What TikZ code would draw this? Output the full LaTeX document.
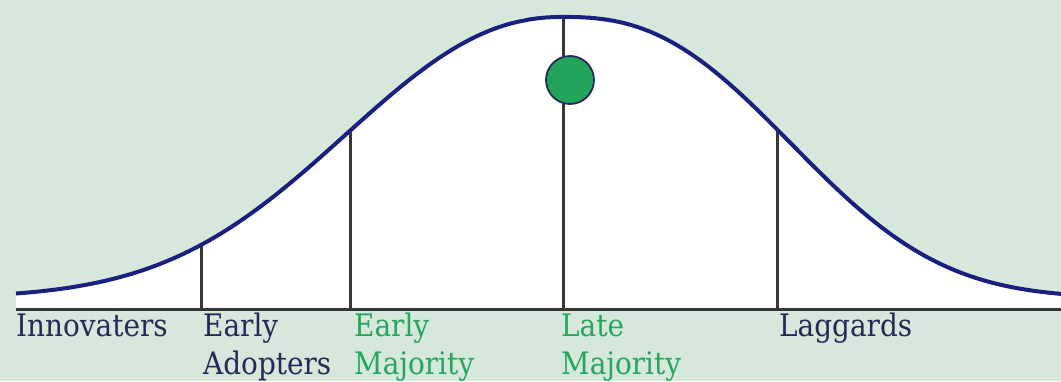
\documentclass[tikz,border=0pt]{standalone}
\usepackage{fontspec}
\setmainfont{DejaVu Serif Condensed}
\definecolor{bg}{RGB}{214,232,220}
\definecolor{navy}{RGB}{26,32,128}
\definecolor{txtnavy}{RGB}{36,42,88}
\definecolor{txtgreen}{RGB}{37,166,95}
\definecolor{dotgreen}{RGB}{34,165,90}
\definecolor{axisgray}{RGB}{55,55,55}
\pgfmathdeclarefunction{bellL}{1}{\pgfmathparse{298-281*exp(-((abs(#1-563)+0.01)/287)^2.2)}}
\pgfmathdeclarefunction{bellR}{1}{\pgfmathparse{298-281*exp(-((abs(#1-563)+0.01)/280)^2.5)}}
\begin{document}
\begin{tikzpicture}[x=1pt,y=-1pt,
  vline/.style={draw=axisgray,line width=3pt},
  curve/.style={draw=navy,line width=4pt,line join=round},
  lbl/.style={anchor=base west,inner sep=0pt,align=left,font=\fontsize{31}{38}\selectfont},
  dot/.style={circle,fill=dotgreen,draw=txtnavy,line width=1.8pt,minimum size=48pt,inner sep=0pt}]
\fill[bg] (0,0) rectangle (1061,381);
\useasboundingbox (0,0) rectangle (1061,381);
\fill[white] (16,308) -- plot[domain=16:563,samples=100] (\x,{bellL(\x)})
  -- plot[domain=563:1061,samples=100] (\x,{bellR(\x)}) -- (1061,308) -- cycle;
\coordinate (t1) at (201,{bellL(201)});
\coordinate (b1) at (201,308);
\coordinate (t2) at (350,{bellL(350)});
\coordinate (b2) at (350,308);
\coordinate (t3) at (563,{bellL(563)});
\coordinate (b3) at (563,308);
\coordinate (t4) at (777,{bellR(777)});
\coordinate (b4) at (777,308);
\draw[vline] (t1) -- (b1);
\draw[vline] (t2) -- (b2);
\draw[vline] (t3) -- (b3);
\draw[vline] (t4) -- (b4);
\coordinate (a0) at (16,309);
\coordinate (a1) at (1061,309);
\draw[vline] (a0) -- (a1);
\draw[curve] plot[domain=16:563,samples=100] (\x,{bellL(\x)})
  -- plot[domain=563:1061,samples=100] (\x,{bellR(\x)});
\node[dot] (peak) at (570,80) {};
\node[lbl,text=txtnavy] (innov) at (16,336) {Innovaters};
\node[lbl,text=txtnavy] (early) at (203,374) {Early\\Adopters};
\node[lbl,text=txtgreen] (emaj) at (354,374) {Early\\Majority};
\node[lbl,text=txtgreen] (lmaj) at (561,374) {Late\\Majority};
\node[lbl,text=txtnavy] (lag) at (779,336) {Laggards};
\end{tikzpicture}
\end{document}
